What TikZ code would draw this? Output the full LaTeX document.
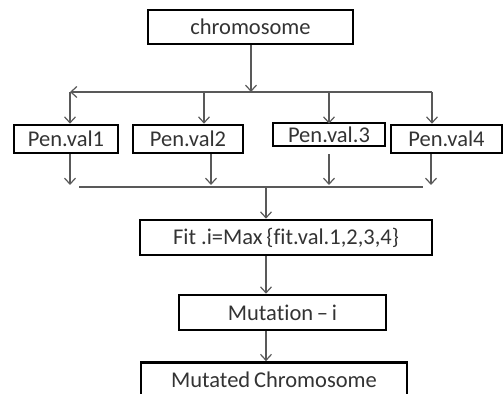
\documentclass[tikz,border=0pt]{standalone}
\usepackage{fontspec}
\setmainfont{Carlito}[Ligatures=NoCommon]
\usepackage{tikz}
\usetikzlibrary{arrows.meta, positioning}

\tikzset{
    box/.style={rectangle, draw=black, line width=2.6pt, inner sep=0pt, text=black!80, font=\fontsize{22.5}{26}\selectfont},
    arrow/.style={draw=black!65, line width=1.2pt, -{Straight Barb[length=6pt,width=11pt]}},
    line/.style={draw=black!65, line width=1.2pt}
}

\begin{document}
\begin{tikzpicture}[x=1pt, y=1pt, node distance=2cm, auto]
    \useasboundingbox (0,0) rectangle (504,394);

    \node (Chromosome) [box, minimum width=205pt, minimum height=34pt] at (250.5,367) {chromosome};

    \node (PenVal1) [below of=Chromosome, node distance=112pt, xshift=-184.5pt, box, minimum width=104pt, minimum height=28pt] {Pen.val1};
    \node (PenVal2) [below of=Chromosome, node distance=112pt, xshift=-62.5pt, box, minimum width=110pt, minimum height=28pt] {Pen.val2};
    \node (PenVal3) [below of=Chromosome, node distance=107.5pt, xshift=78.5pt, box, minimum width=112pt, minimum height=23pt] {Pen.val.3};
    \node (PenVal4) [below of=Chromosome, node distance=112pt, xshift=196pt, box, minimum width=111pt, minimum height=28pt] {Pen.val4};

    \node (FitMax) [below of=Chromosome, node distance=210.5pt, xshift=35.5pt, box, minimum width=292pt, minimum height=35pt] {Fit .i=Max\,\{fit.val.1,2,3,4\}};
    \node (Mutation) [below of=FitMax, node distance=75pt, xshift=-3.5pt, box, minimum width=207pt, minimum height=35pt] {Mutation\,–\,i};
    \node (MutatedChromosome) [below of=Mutation, node distance=67.5pt, xshift=-8.5pt, box, minimum width=266pt, minimum height=35pt] {Mutated\,Chromosome};

    \coordinate (Split) at (251,302);
    \coordinate (BusL) at (70,302);
    \coordinate (TapB) at (204,302);
    \coordinate (TapC) at (329,302);
    \coordinate (BusR) at (432,302);

    \draw[arrow] (Chromosome.south -| Split) -- (Split);
    \draw[arrow] (BusR) -- (BusL);
    \draw[arrow] (BusL) -- (BusL |- PenVal1.north);
    \draw[arrow] (TapB) -- (TapB |- PenVal2.north);
    \draw[arrow] (TapC) -- (TapC |- PenVal1.north);
    \draw[arrow] (BusR) -- (BusR |- PenVal4.north);

    \coordinate (OutA) at (70,209);
    \coordinate (OutB) at (211,209);
    \coordinate (OutC) at (329,209);
    \coordinate (OutD) at (431,209);
    \coordinate (JoinL) at (79,207);
    \coordinate (JoinR) at (423,207);
    \coordinate (Join) at (266,207);

    \draw[arrow] (PenVal1.south -| OutA) -- (OutA);
    \draw[arrow] (PenVal2.south -| OutB) -- (OutB);
    \draw[arrow] (PenVal1.south -| OutC) -- (OutC);
    \draw[arrow] (PenVal4.south -| OutD) -- (OutD);
    \draw[line] (JoinL) -- (JoinR);

    \draw[arrow] (Join) -- (Join |- FitMax.north);
    \draw[arrow] (Join |- FitMax.south) -- (Join |- Mutation.north);
    \draw[arrow] (Join |- Mutation.south) -- (Join |- MutatedChromosome.north);

\end{tikzpicture}
\end{document}
